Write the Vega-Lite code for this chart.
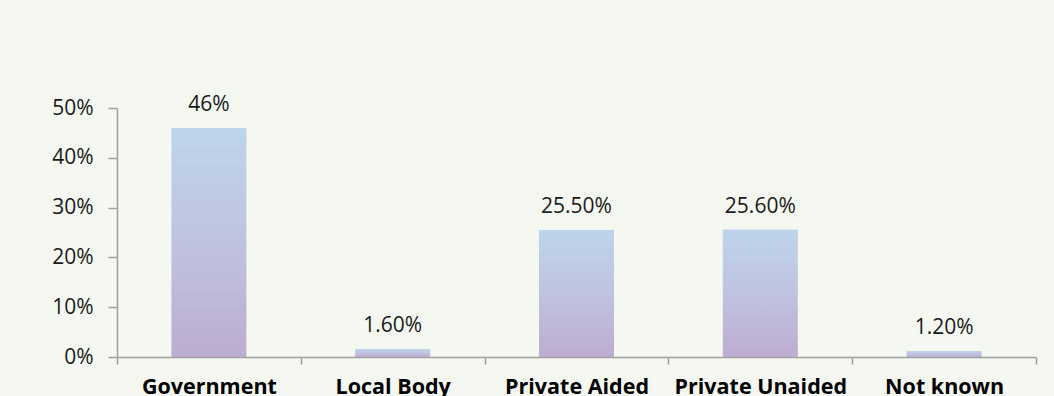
{
  "$schema": "https://vega.github.io/schema/vega-lite/v6.json",
  "width": 919,
  "height": 249,
  "autosize": "none",
  "padding": {"left": 117, "top": 108, "right": 18, "bottom": 39},
  "background": "#f4f8f0",
  "config": {
    "view": {"stroke": null},
    "font": "Open Sans"
  },
  "data": {
    "values": [
      {"category": "Government", "value": 0.46, "label": "46%"},
      {"category": "Local Body", "value": 0.016, "label": "1.60%"},
      {"category": "Private Aided", "value": 0.255, "label": "25.50%"},
      {"category": "Private Unaided", "value": 0.256, "label": "25.60%"},
      {"category": "Not known", "value": 0.012, "label": "1.20%"}
    ]
  },
  "encoding": {
    "x": {
      "field": "category",
      "type": "nominal",
      "sort": null,
      "title": null,
      "scale": {"paddingInner": 0, "paddingOuter": 0},
      "axis": {
        "labelAngle": 0,
        "labelFont": "Open Sans",
        "labelFontSize": 21.5,
        "labelFontWeight": "bold",
        "labelColor": "#000000",
        "labelPadding": 12,
        "tickBand": "extent",
        "tickSize": 7,
        "tickColor": "#a0a0a0",
        "domainColor": "#a0a0a0",
        "domainWidth": 1.5,
        "tickWidth": 1.5
      }
    },
    "y": {
      "field": "value",
      "type": "quantitative",
      "title": null,
      "scale": {"domain": [0, 0.5], "nice": false},
      "axis": {
        "format": ".0%",
        "values": [0, 0.1, 0.2, 0.3, 0.4, 0.5],
        "grid": false,
        "labelFont": "Open Sans",
        "labelFontSize": 21,
        "labelColor": "#1a1a1a",
        "labelPadding": 15,
        "tickSize": 9,
        "tickColor": "#a0a0a0",
        "domainColor": "#a0a0a0",
        "domainWidth": 1.5,
        "tickWidth": 1.5
      }
    }
  },
  "layer": [
    {
      "mark": {
        "type": "bar",
        "size": 75,
        "color": {
          "gradient": "linear",
          "x1": 0, "y1": 0, "x2": 0, "y2": 1,
          "stops": [
            {"offset": 0, "color": "#bed4ea"},
            {"offset": 0.5, "color": "#bfc3e0"},
            {"offset": 1, "color": "#bdaccf"}
          ]
        }
      }
    },
    {
      "mark": {
        "type": "text",
        "baseline": "alphabetic",
        "dy": -17,
        "font": "Open Sans",
        "fontSize": 21,
        "color": "#1a1a1a"
      },
      "encoding": {"text": {"field": "label"}}
    }
  ]
}
